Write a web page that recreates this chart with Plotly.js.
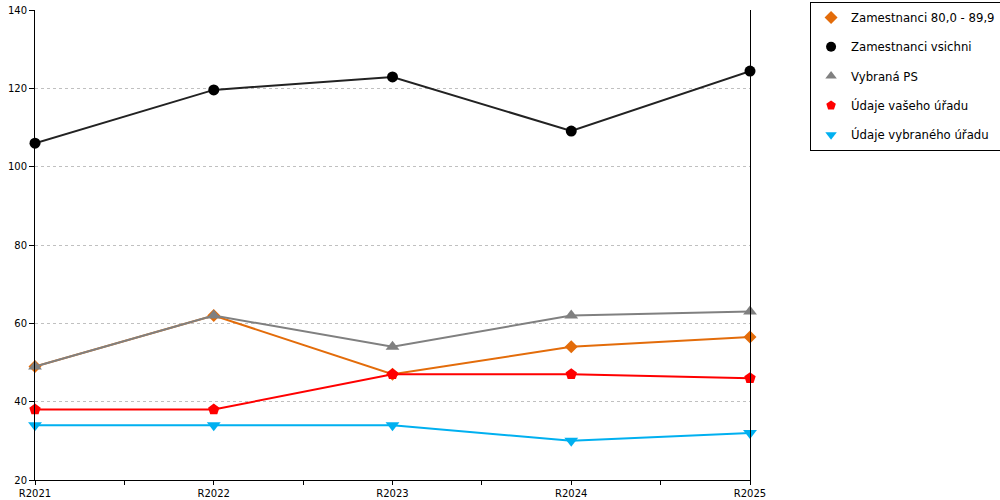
<!DOCTYPE html>
<html>
<head>
<meta charset="utf-8">
<script src="https://cdn.plot.ly/plotly-3.0.1.min.js"></script>
<style>
  html, body { margin: 0; padding: 0; background: #fff; }
  #chart { width: 1000px; height: 500px; }
</style>
</head>
<body>
<div id="chart"></div>
<script>
// category labels and series values
const years = ['R2021', 'R2022', 'R2023', 'R2024', 'R2025'];
const zamestnanci80 = [49, 62, 47, 54, 56.5];
const zamestnanciVsichni = [106, 119.6, 122.9, 109.1, 124.4];
const vybranaPS = [49, 62, 54, 62, 63];
const udajeVasehoUradu = [38, 38, 47, 47, 46];
const udajeVybranehoUradu = [34, 34, 34, 30, 32];

const seriesDefs = [
  { name: 'Zamestnanci 80,0 - 89,9', y: zamestnanci80, color: '#e36c0a', symbol: 'diamond', size: 10 },
  { name: 'Zamestnanci vsichni', y: zamestnanciVsichni, color: '#000000', symbol: 'circle', size: 11, lineColor: '#222222' },
  { name: 'Vybraná PS', y: vybranaPS, color: '#808080', symbol: 'triangle-up', size: 12 },
  { name: 'Údaje vašeho úřadu', y: udajeVasehoUradu, color: '#ff0000', symbol: 'pentagon', size: 12 },
  { name: 'Údaje vybraného úřadu', y: udajeVybranehoUradu, color: '#00b0f0', symbol: 'triangle-down', size: 12 }
];

const xIdx = years.map((_, i) => i);

// plotted lines (no legend)
const lineTraces = seriesDefs.map((s) => ({
  type: 'scatter',
  mode: 'lines+markers',
  x: xIdx,
  y: s.y,
  name: s.name,
  showlegend: false,
  cliponaxis: false,
  line: { color: s.lineColor || s.color, width: 2 },
  marker: { color: s.color, symbol: s.symbol, size: s.size }
}));

// marker-only legend entries
const legendTraces = seriesDefs.map((s, i) => ({
  type: 'scatter',
  mode: 'markers',
  x: [null],
  y: [null],
  name: s.name,
  legendgroup: 'g' + i,
  showlegend: true,
  marker: { color: s.color, symbol: s.symbol, size: 10 }
}));

// ticks between categories too, labels only on categories
const tickVals = [];
const tickText = [];
years.forEach((label, i) => {
  tickVals.push(i);
  tickText.push(label);
  if (i < years.length - 1) {
    tickVals.push(i + 0.5);
    tickText.push('');
  }
});

const layout = {
  width: 1000,
  height: 500,
  margin: { l: 35, r: 250, t: 10, b: 20, autoexpand: false },
  paper_bgcolor: '#ffffff',
  plot_bgcolor: '#ffffff',
  font: { family: 'DejaVu Sans, Verdana, sans-serif', size: 10, color: '#000000' },
  xaxis: {
    range: [0, years.length - 1],
    tickmode: 'array',
    tickvals: tickVals,
    ticktext: tickText,
    showgrid: false,
    zeroline: false,
    showline: true,
    linecolor: '#000000',
    linewidth: 1,
    ticks: 'outside',
    ticklen: 4,
    tickcolor: '#000000',
    tickfont: { size: 10 }
  },
  yaxis: {
    range: [20, 140],
    dtick: 20,
    showgrid: true,
    gridcolor: '#c0c0c0',
    griddash: 'dot',
    zeroline: false,
    showline: true,
    mirror: true,
    linecolor: '#000000',
    linewidth: 1,
    ticks: 'outside',
    ticklen: 5,
    tickcolor: '#000000',
    tickfont: { size: 10 }
  },
  showlegend: true,
  legend: {
    x: 1.084,
    y: 1.017,
    xanchor: 'left',
    yanchor: 'top',
    bordercolor: '#000000',
    borderwidth: 1,
    bgcolor: '#ffffff',
    traceorder: 'grouped',
    tracegroupgap: 10.3,
    font: { size: 11.7 }
  }
};

Plotly.newPlot('chart', [...lineTraces, ...legendTraces], layout, {
  displayModeBar: false,
  staticPlot: true
});
</script>
</body>
</html>
